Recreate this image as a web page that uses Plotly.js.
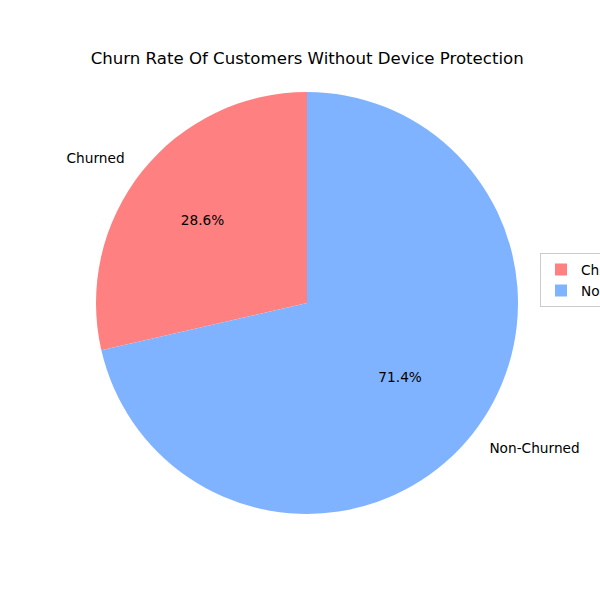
<!DOCTYPE html>
<html>
<head>
<meta charset="utf-8">
<script src="https://cdn.plot.ly/plotly-3.0.1.min.js"></script>
<style>html,body{margin:0;padding:0;background:#fff;}</style>
</head>
<body>
<div id="chart" style="width:600px;height:600px;"></div>
<script>
const labels = ["Churned", "Non-Churned"];
const values = [28.6, 71.4];
const colors = ["#ff8080", "#80b3ff"];
const chartTitle = "Churn Rate Of Customers Without Device Protection";

// matplotlib draws counterclockwise from 12 o'clock; emulate with clockwise + rotation
const total = values.reduce((a, b) => a + b, 0);
const rot = -values[0] / total * 360;

function domainFor(r) {
  const cx = 307, cy = 303;
  return {x: [(cx - r) / 600, (cx + r) / 600], y: [(600 - cy - r) / 600, (600 - cy + r) / 600]};
}
const font = {family: "DejaVu Sans", size: 13.7, color: "#000"};
const clear = ["rgba(0,0,0,0)", "rgba(0,0,0,0)"];

const traces = [
  {
    type: "pie", labels: labels, values: values, sort: false,
    direction: "clockwise", rotation: rot,
    marker: {colors: colors, line: {width: 0}},
    textinfo: "none",
    domain: domainFor(211), hoverinfo: "none"
  },
  {
    type: "pie", labels: labels, values: values, sort: false,
    direction: "clockwise", rotation: rot,
    marker: {colors: clear, line: {width: 0}},
    texttemplate: "%{percent:.1%}", textposition: "inside",
    insidetextorientation: "horizontal",
    insidetextfont: font,
    domain: domainFor(238), hoverinfo: "none", showlegend: false
  },
  {
    type: "pie", labels: labels, values: values, sort: false,
    direction: "clockwise", rotation: rot,
    marker: {colors: clear, line: {width: 0}},
    textinfo: "label", textposition: "outside",
    outsidetextfont: font,
    domain: domainFor(228), hoverinfo: "none", showlegend: false
  }
];

const layout = {
  width: 600, height: 600,
  margin: {l: 0, r: 0, t: 0, b: 0, autoexpand: false},
  paper_bgcolor: "#fff",
  title: {text: chartTitle, font: {family: "DejaVu Sans", size: 16.6, color: "#000"},
          x: 0.512, xanchor: "center", y: 1 - 58/600, yanchor: "middle"},
  showlegend: true,
  legend: {x: 0.9, xanchor: "left", y: 0.533, yanchor: "middle",
           bgcolor: "#fff", bordercolor: "#cccccc", borderwidth: 1,
           font: {family: "DejaVu Sans", size: 13.7, color: "#000"}}
};

Plotly.newPlot("chart", traces, layout, {displayModeBar: false});
</script>
</body>
</html>
